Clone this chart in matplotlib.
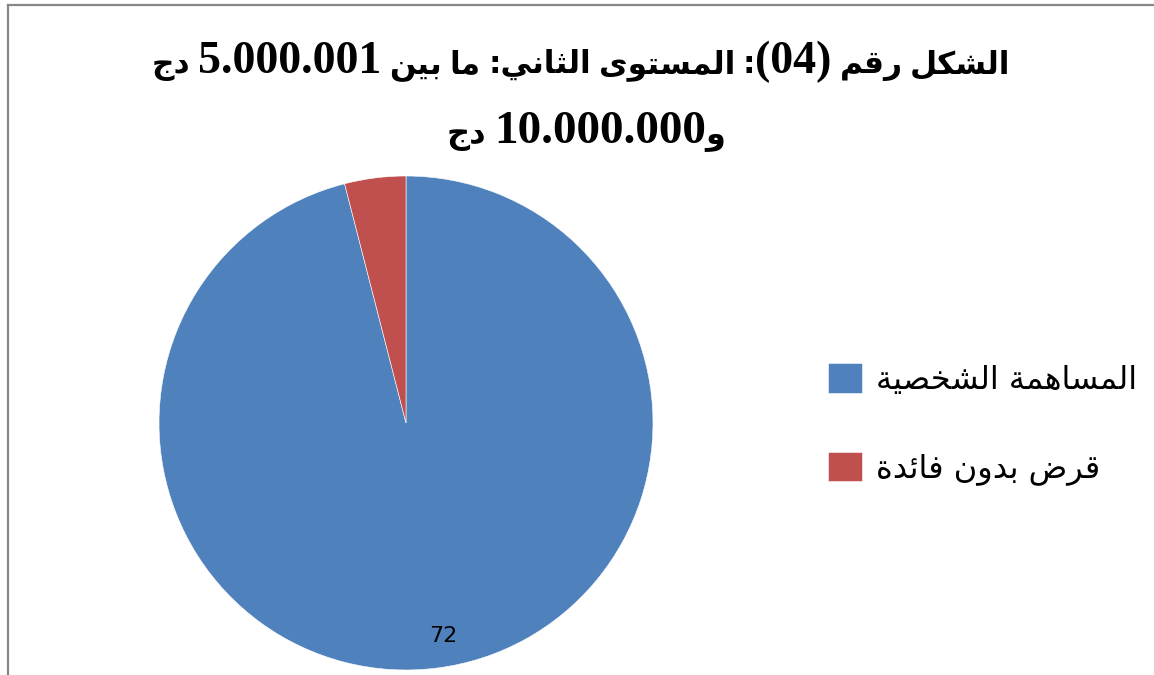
import re
import matplotlib
matplotlib.use("Agg")
import matplotlib.pyplot as plt
from matplotlib.lines import Line2D

# data
labels = ["المساهمة الشخصية", "قرض بدون فائدة"]
values = [72, 3]
colors = ["#4F81BD", "#C0504D"]
shown_label = "72"
title_lines = ["الشكل رقم (04): المستوى الثاني: ما بين 5.000.001 دج",
               "و10.000.000 دج"]

# minimal arabic shaping (isolated, final, initial, medial)
FORMS = {
    "ا": (0xFE8D, 0xFE8E, None, None), "ب": (0xFE8F, 0xFE90, 0xFE91, 0xFE92),
    "ة": (0xFE93, 0xFE94, None, None), "ت": (0xFE95, 0xFE96, 0xFE97, 0xFE98),
    "ث": (0xFE99, 0xFE9A, 0xFE9B, 0xFE9C), "ج": (0xFE9D, 0xFE9E, 0xFE9F, 0xFEA0),
    "ح": (0xFEA1, 0xFEA2, 0xFEA3, 0xFEA4), "خ": (0xFEA5, 0xFEA6, 0xFEA7, 0xFEA8),
    "د": (0xFEA9, 0xFEAA, None, None), "ذ": (0xFEAB, 0xFEAC, None, None),
    "ر": (0xFEAD, 0xFEAE, None, None), "ز": (0xFEAF, 0xFEB0, None, None),
    "س": (0xFEB1, 0xFEB2, 0xFEB3, 0xFEB4), "ش": (0xFEB5, 0xFEB6, 0xFEB7, 0xFEB8),
    "ص": (0xFEB9, 0xFEBA, 0xFEBB, 0xFEBC), "ض": (0xFEBD, 0xFEBE, 0xFEBF, 0xFEC0),
    "ف": (0xFED1, 0xFED2, 0xFED3, 0xFED4), "ق": (0xFED5, 0xFED6, 0xFED7, 0xFED8),
    "ك": (0xFED9, 0xFEDA, 0xFEDB, 0xFEDC), "ل": (0xFEDD, 0xFEDE, 0xFEDF, 0xFEE0),
    "م": (0xFEE1, 0xFEE2, 0xFEE3, 0xFEE4), "ن": (0xFEE5, 0xFEE6, 0xFEE7, 0xFEE8),
    "ه": (0xFEE9, 0xFEEA, 0xFEEB, 0xFEEC), "و": (0xFEED, 0xFEEE, None, None),
    "ى": (0xFEEF, 0xFEF0, None, None), "ي": (0xFEF1, 0xFEF2, 0xFEF3, 0xFEF4),
    "ئ": (0xFE89, 0xFE8A, 0xFE8B, 0xFE8C),
}


def dual(c):
    return c in FORMS and FORMS[c][2] is not None


def shape(s):
    out = []
    i = 0
    while i < len(s):
        c = s[i]
        if c not in FORMS:
            out.append(c)
            i += 1
            continue
        prev = s[i - 1] if i > 0 else ""
        pj = dual(prev)
        if c == "ل" and i + 1 < len(s) and s[i + 1] == "ا":
            out.append(chr(0xFEFC if pj else 0xFEFB))
            i += 2
            continue
        nxt = s[i + 1] if i + 1 < len(s) else ""
        nj = nxt in FORMS and dual(c)
        f = FORMS[c]
        if pj and nj:
            out.append(chr(f[3]))
        elif pj:
            out.append(chr(f[1]))
        elif nj:
            out.append(chr(f[2]))
        else:
            out.append(chr(f[0]))
        i += 1
    return "".join(out)


MIRROR = {"(": ")", ")": "("}


def visual(s):
    s = shape(s)
    runs = re.split(r"([0-9.]+)", s)
    res = []
    for r in reversed(runs):
        if re.fullmatch(r"[0-9.]+", r):
            res.append(r)
        else:
            res.append("".join(MIRROR.get(c, c) for c in reversed(r)))
    return "".join(res)


W, H = 1154, 675
fig = plt.figure(figsize=(W / 100, H / 100), dpi=100)
renderer = fig.canvas.get_renderer()


def mixed_line(xc, ybase, logical, latin_size, arab_size):
    # latin parts in a Times-like bold, arabic parts in DejaVu Sans Bold
    toks = re.findall(r"[0-9.()]+| +|[^ 0-9.()]+", visual(logical))
    space = 0.25 * arab_size * 100 / 72
    items = []
    total = 0
    for t in toks:
        if t.strip() == "":
            total += space * len(t)
            items.append((None, space * len(t)))
            continue
        latin = re.fullmatch(r"[0-9.()]+", t) is not None
        txt = fig.text(0, 1 - ybase / H, t, ha="left", va="baseline",
                       fontsize=latin_size if latin else arab_size,
                       fontweight="bold",
                       family="Liberation Serif" if latin else "DejaVu Sans")
        w = txt.get_window_extent(renderer).width
        items.append((txt, w))
        total += w
    x = xc - total / 2
    for txt, w in items:
        if txt is not None:
            txt.set_x(x / W)
        x += w


# chart frame (only left and top edges are inside the picture)
fig.add_artist(Line2D([7.5 / W, 7.5 / W], [0, 1 - 4.5 / H], color="#878787", lw=1.6))
fig.add_artist(Line2D([7.5 / W, 1], [1 - 4.5 / H, 1 - 4.5 / H], color="#878787", lw=1.6))

cx, cy, r = 406, 423, 247
ax = fig.add_axes([(cx - r) / W, (H - cy - r) / H, 2 * r / W, 2 * r / H])
wedges, _ = ax.pie(values, colors=colors, startangle=90, counterclock=False,
                   wedgeprops=dict(edgecolor="white", linewidth=0.4))
ax.set_xlim(-1, 1)
ax.set_ylim(-1, 1)

# data label for the big slice
ax.text(0.15, -0.863, shown_label, ha="center", va="center", fontsize=16,
        family="DejaVu Sans", color="black")

mixed_line(581, 73, title_lines[0], 33, 22.5)
mixed_line(586, 143, title_lines[1], 34, 23)

fig.legend(wedges, [visual(l) for l in labels], loc="center left",
           bbox_to_anchor=(828 / W, 1 - 424 / H), frameon=False,
           handlelength=1.05, handleheight=1.05, handletextpad=0.45,
           labelspacing=1.75, borderpad=0, borderaxespad=0,
           prop=dict(family="DejaVu Sans", size=23))

fig.savefig("out.png", dpi=100)
